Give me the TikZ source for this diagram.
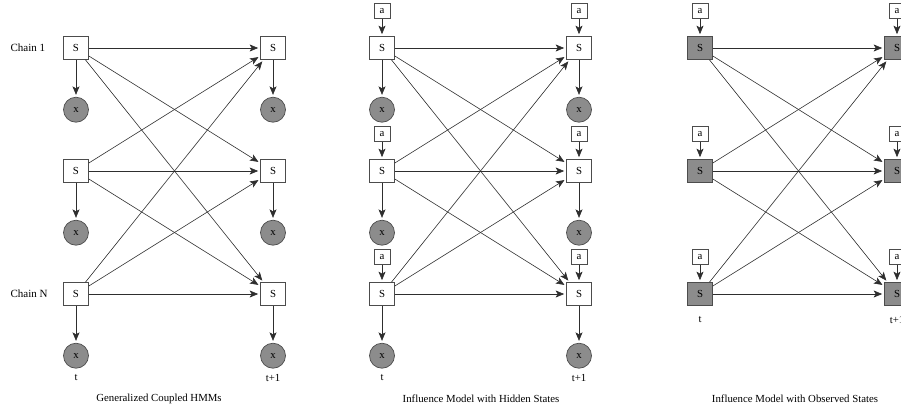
\documentclass[tikz,border=0pt]{standalone}
\usepackage{fontspec}
\setmainfont{Liberation Serif}
\usetikzlibrary{arrows.meta}
\usetikzlibrary{positioning}

\definecolor{shade}{HTML}{8C8C8C}
\definecolor{edge}{HTML}{2E2E2E}

\tikzset{
    state/.style={draw=black!70, line width=0.7pt, fill=white, minimum width=25pt, minimum height=23pt, inner sep=0pt},
    obs/.style={circle, draw=black!70, line width=0.7pt, fill=shade, minimum size=25pt, inner sep=0pt},
    act/.style={draw=black!70, line width=0.7pt, fill=white, minimum width=16pt, minimum height=15pt, inner sep=0pt},
    link/.style={draw=edge, line width=0.6pt, -{Stealth[length=8.5pt,width=7pt,inset=2pt]}, shorten >=2pt},
}

\begin{document}
\begin{tikzpicture}[x=1pt, y=-1pt, font=\fontsize{10.8}{13}\selectfont]
    \useasboundingbox (0,0) rectangle (901,410);
    \clip (0,0) rectangle (901,410);

    % generalized coupled HMMs
    \foreach \r/\y in {1/48,2/171,3/294} {
        \node[state] (gl\r) at (76,\y) {S};
        \node[state] (gr\r) at (273,\y) {S};
        \node[obs, below=37pt of gl\r] (gxl\r) {x};
        \node[obs, below=37pt of gr\r] (gxr\r) {x};
        \draw[link] (gl\r) -- (gxl\r);
        \draw[link] (gr\r) -- (gxr\r);
    }
    \foreach \i in {1,2,3}
        \foreach \j in {1,2,3}
            \draw[link] (gl\i) -- (gr\j);

    \node[anchor=west, font=\fontsize{11}{13}\selectfont] (chainA) at (7,48) {Chain 1};
    \node[anchor=west, font=\fontsize{11}{13}\selectfont] (chainN) at (7,294) {Chain N};
    \node (gt) at (76,378) {t};
    \node (gt1) at (273,378) {t+1};
    \node (gcap) at (159,399) {Generalized Coupled HMMs};

    % influence model, hidden states
    \foreach \r/\y in {1/48,2/171,3/294} {
        \node[state] (hl\r) at (382,\y) {S};
        \node[state] (hr\r) at (579,\y) {S};
        \node[obs, below=37pt of hl\r] (hxl\r) {x};
        \node[obs, below=37pt of hr\r] (hxr\r) {x};
        \node[act, above=17pt of hl\r] (hal\r) {a};
        \node[act, above=17pt of hr\r] (har\r) {a};
        \draw[link] (hl\r) -- (hxl\r);
        \draw[link] (hr\r) -- (hxr\r);
        \draw[link] (hal\r) -- (hl\r);
        \draw[link] (har\r) -- (hr\r);
    }
    \foreach \i in {1,2,3}
        \foreach \j in {1,2,3}
            \draw[link] (hl\i) -- (hr\j);

    \node (ht) at (382,378) {t};
    \node (ht1) at (579,378) {t+1};
    \node (hcap) at (481,399) {Influence Model with Hidden States};

    % influence model, observed states
    \foreach \r/\y in {1/48,2/171,3/294} {
        \node[state, fill=shade] (ol\r) at (700,\y) {S};
        \node[state, fill=shade] (or\r) at (897,\y) {S};
        \node[act, above=17pt of ol\r] (oal\r) {a};
        \node[act, above=17pt of or\r] (oar\r) {a};
        \draw[link] (oal\r) -- (ol\r);
        \draw[link] (oar\r) -- (or\r);
    }
    \foreach \i in {1,2,3}
        \foreach \j in {1,2,3}
            \draw[link] (ol\i) -- (or\j);

    \node (ot) at (700,320) {t};
    \node (ot1) at (897,320) {t+1};
    \node (ocap) at (795,399) {Influence Model with Observed States};
\end{tikzpicture}
\end{document}
